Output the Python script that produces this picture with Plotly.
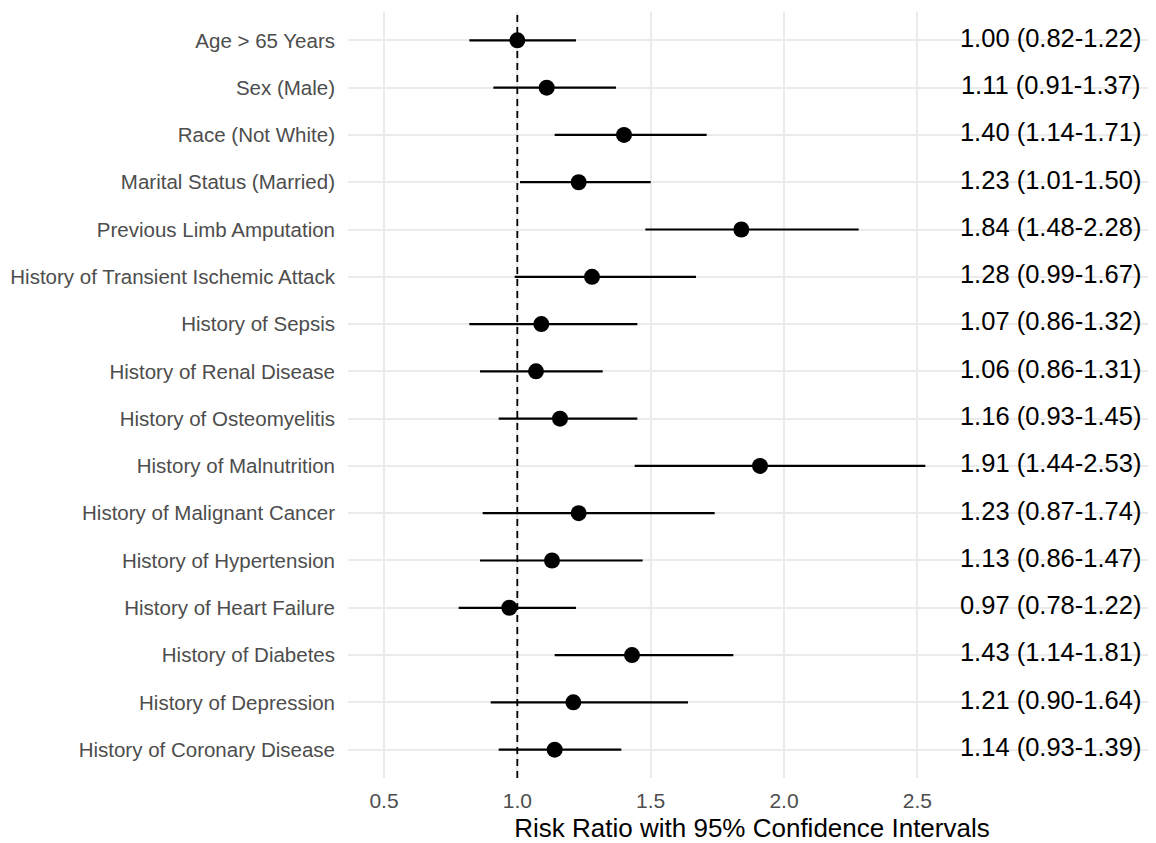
import plotly.graph_objects as go

labels = [
    "Age > 65 Years", "Sex (Male)", "Race (Not White)", "Marital Status (Married)",
    "Previous Limb Amputation", "History of Transient Ischemic Attack", "History of Sepsis",
    "History of Renal Disease", "History of Osteomyelitis", "History of Malnutrition",
    "History of Malignant Cancer", "History of Hypertension", "History of Heart Failure",
    "History of Diabetes", "History of Depression", "History of Coronary Disease",
]
rr = [1.00, 1.11, 1.40, 1.23, 1.84, 1.28, 1.09, 1.07, 1.16, 1.91, 1.23, 1.13, 0.97, 1.43, 1.21, 1.14]
lo = [0.82, 0.91, 1.14, 1.01, 1.48, 0.99, 0.82, 0.86, 0.93, 1.44, 0.87, 0.86, 0.78, 1.14, 0.90, 0.93]
hi = [1.22, 1.37, 1.71, 1.50, 2.28, 1.67, 1.45, 1.32, 1.45, 2.53, 1.74, 1.47, 1.22, 1.81, 1.64, 1.39]
ci_text = [
    "1.00 (0.82-1.22)", "1.11 (0.91-1.37)", "1.40 (1.14-1.71)", "1.23 (1.01-1.50)",
    "1.84 (1.48-2.28)", "1.28 (0.99-1.67)", "1.07 (0.86-1.32)", "1.06 (0.86-1.31)",
    "1.16 (0.93-1.45)", "1.91 (1.44-2.53)", "1.23 (0.87-1.74)", "1.13 (0.86-1.47)",
    "0.97 (0.78-1.22)", "1.43 (1.14-1.81)", "1.21 (0.90-1.64)", "1.14 (0.93-1.39)",
]
x_ticks = [0.5, 1.0, 1.5, 2.0, 2.5]
x_tick_text = ["0.5", "1.0", "1.5", "2.0", "2.5"]
text_x = 3.0
ref_value = 1.0

FONT = "Liberation Sans, Arial, sans-serif"

fig = go.Figure()
fig.add_trace(go.Scatter(
    x=rr, y=labels, mode="markers",
    marker=dict(size=16, color="black"),
    error_x=dict(type="data", symmetric=False,
                 array=[h - r for h, r in zip(hi, rr)],
                 arrayminus=[r - l for r, l in zip(rr, lo)],
                 width=0, thickness=2.2, color="black"),
    showlegend=False, hoverinfo="skip",
))
fig.add_trace(go.Scatter(
    x=[text_x] * len(labels), y=labels, mode="text", text=ci_text,
    textposition="middle center",
    textfont=dict(family=FONT, size=25.5, color="black"),
    showlegend=False, hoverinfo="skip", cliponaxis=False,
))
fig.add_shape(type="line", x0=ref_value, x1=ref_value, xref="x", y0=0, y1=1, yref="paper",
              line=dict(color="black", width=1.8, dash="7px,5px"), layer="above")

fig.update_layout(
    width=1148, height=835,
    margin=dict(l=340, r=0, t=4, b=65),
    paper_bgcolor="white", plot_bgcolor="white",
    font=dict(family=FONT),
    xaxis=dict(
        range=[0.365, 3.395], tickvals=x_ticks, ticktext=x_tick_text,
        showgrid=True, gridcolor="#ebebeb", gridwidth=1.5,
        zeroline=False, showline=False, ticks="",
        ticklabelstandoff=8,
        tickfont=dict(size=21, color="#4d4d4d"),
        title=dict(text="Risk Ratio with 95% Confidence Intervals",
                   font=dict(size=26, color="black"), standoff=7),
    ),
    yaxis=dict(
        type="category", categoryorder="array", categoryarray=labels[::-1],
        range=[-0.6, 15.6],
        showgrid=True, gridcolor="#ebebeb", gridwidth=1.5,
        zeroline=False, showline=False, ticks="",
        ticklabelstandoff=12,
        tickfont=dict(size=20.5, color="#4d4d4d"),
    ),
)

fig.write_html("out.html")
